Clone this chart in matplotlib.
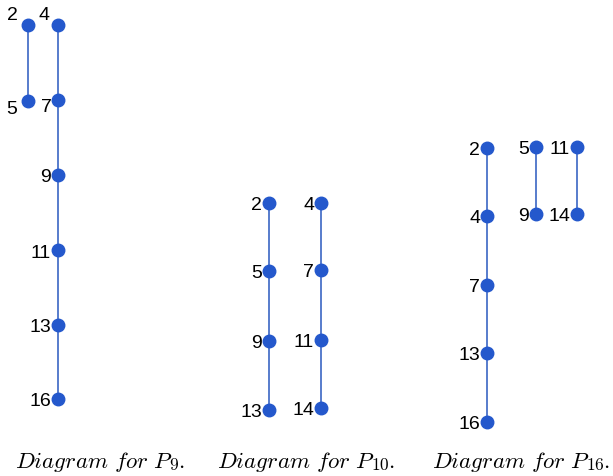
import matplotlib.pyplot as plt

plt.rcParams['mathtext.fontset'] = 'cm'

# each chain: list of (label, x column, y level) (pixel units)
p9_chains = [
    (['2', '5'], 28, [26, 102]),
    (['4', '7', '9', '11', '13', '16'], 58, [26, 101, 176, 251, 326, 400]),
]
p10_chains = [
    (['2', '5', '9', '13'], 269, [204, 272, 342, 411]),
    (['4', '7', '11', '14'], 321, [204, 271, 341, 409]),
]
p16_chains = [
    (['2', '4', '7', '13', '16'], 487, [149, 217, 286, 354, 423]),
    (['5', '9'], 536, [148, 215]),
    (['11', '14'], 577, [148, 215]),
]
caption_subs = ['9', '10', '16']
caption_left = [15, 217, 432]

# label offsets for the top of P9 (labels sit above/next to the dots there)
special = {('p9', '2'): (-16, -10), ('p9', '4'): (-14, -10),
           ('p9', '5'): (-16, 8), ('p9', '7'): (-12, 6)}

fig = plt.figure(figsize=(6.13, 4.77), dpi=100)
ax = fig.add_axes([0, 0, 1, 1])
ax.set_xlim(0, 613)
ax.set_ylim(477, 0)
ax.axis('off')

line_c = '#4a72c8'
dot_c = '#2458cc'

for name, chains in [('p9', p9_chains), ('p10', p10_chains), ('p16', p16_chains)]:
    for labels, x, ys in chains:
        xs = [x] * len(ys)
        ax.plot(xs, ys, color=line_c, lw=1.3, zorder=1)
        ax.plot(xs, ys, 'o', color=dot_c, ms=9, zorder=2)
        for lab, y in zip(labels, ys):
            if (name, lab) in special:
                dx, dy = special[(name, lab)]
                ax.text(x + dx, y + dy, lab, fontsize=14, family='Liberation Sans',
                        ha='center', va='center')
            else:
                ax.text(x - 7, y + 2, lab, fontsize=14, family='Liberation Sans',
                        ha='right', va='center')

# captions: main part, then a larger-than-mathtext subscript, then the period
fig.canvas.draw()
r = fig.canvas.get_renderer()
inv = ax.transData.inverted()
for sub, x0 in zip(caption_subs, caption_left):
    t = ax.text(x0, 468, r'$Diagram\ for\ P$', fontsize=16.5, ha='left', va='baseline')
    x1 = inv.transform(t.get_window_extent(r))[1][0]
    s = ax.text(x1 - 4, 470, r'$\mathrm{' + sub + '}$', fontsize=12.5, ha='left', va='baseline')
    x2 = inv.transform(s.get_window_extent(r))[1][0]
    ax.text(x2 - 1, 468, '$.$', fontsize=16.5, ha='left', va='baseline')

fig.savefig('out.png', dpi=100)
